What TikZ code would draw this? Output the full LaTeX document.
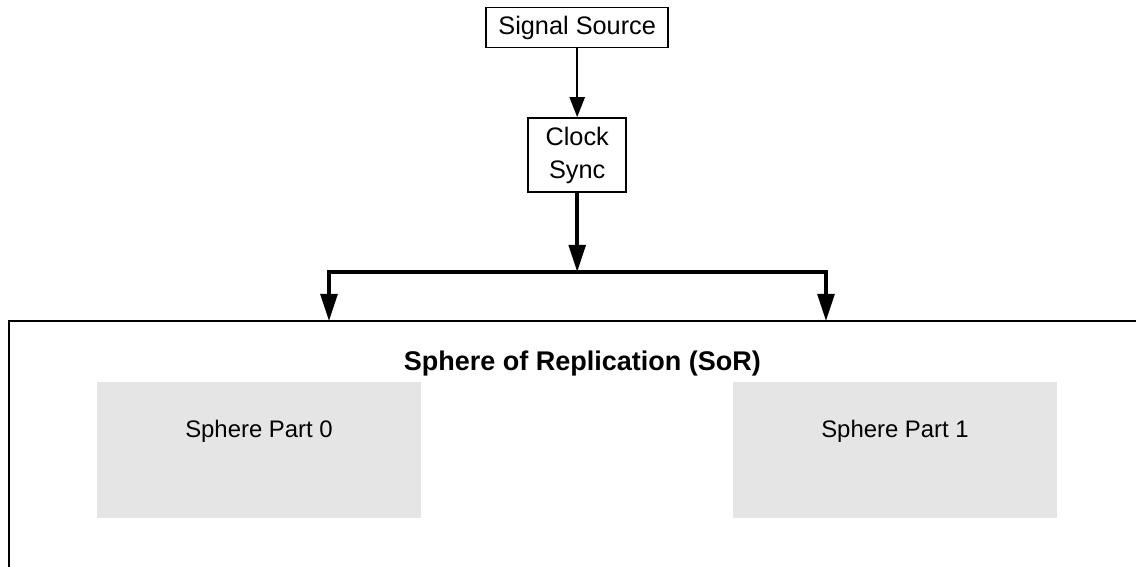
\documentclass[tikz,border=0pt]{standalone}
\usepackage{fontspec}
\setmainfont{Liberation Sans}
\usepackage{tikz}
\usetikzlibrary{positioning}
\usetikzlibrary{arrows.meta}

\tikzset{
    blockbox/.style={draw=black, line width=1.2pt, font=\fontsize{18}{23.5}\selectfont, align=center, inner sep=0pt},
    partbox/.style={fill=black!10, draw=none, font=\fontsize{17}{20.4}\selectfont, inner ysep=0pt,
        minimum width=8.1cm, text height=1.375cm, text depth=2.025cm},
    thinarrow/.style={line width=1.2pt, -{Triangle[length=0.5cm,width=0.38cm]}},
    fatline/.style={line width=2.5pt},
    fattip/.tip={Triangle[length=0.68cm,width=0.42cm]}
}

\begin{document}
\begin{tikzpicture}
        \useasboundingbox (0,0) rectangle (28.4,-14.175);

        \node[blockbox, minimum width=4.55cm, minimum height=1cm] (src) at (14.43,-0.69)
        {Signal Source};
        \node[blockbox, minimum width=2.45cm, minimum height=1.85cm] (sync) at (14.43,-3.875)
        {Clock\\Sync};

        \coordinate (bus)  at (14.43,-6.8);
        \coordinate (busL) at (8.225,-6.8);
        \coordinate (busR) at (20.65,-6.8);
        \coordinate (sorL) at (8.225,-8.025);
        \coordinate (sorR) at (20.65,-8.025);

        % sphere of replication frame (runs off the page)
        \draw[line width=1.8pt] (28.5,-8.025) -- (0.225,-8.025) -- (0.225,-14.3);
        \node[font=\bfseries\fontsize{19.2}{23}\selectfont, anchor=base] (sor) at (14.56,-9.25)
        {Sphere of Replication (SoR)};

        \node[partbox] (part0) at (6.475,-11.25) {Sphere Part 0};
        \node[partbox] (part1) at (22.375,-11.25) {Sphere Part 1};

        \draw[thinarrow] (src) -- (sync);
        \draw[fatline, -{fattip}] (sync) -- (bus);
        \draw[fatline, {fattip}-{fattip}] (sorL) -- (busL) -- (busR) -- (sorR);
\end{tikzpicture}
\end{document}
